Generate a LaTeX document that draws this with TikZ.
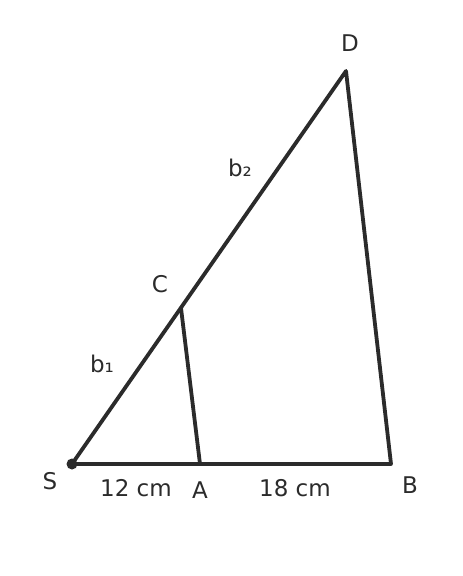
\documentclass[tikz,border=0pt]{standalone}
\usepackage{fontspec}
\setmainfont{DejaVu Sans}
\definecolor{ink}{HTML}{2B2B2B}
\begin{document}
\begin{tikzpicture}[x=1pt,y=-1pt,
  edge/.style={draw=ink,line width=3.8pt,line join=round},
  lbl/.style={text=ink,font=\fontsize{23}{27}\selectfont,inner sep=0pt}]
\useasboundingbox (0,0) rectangle (463,576);
\coordinate (S) at (72,464);
\coordinate (A) at (200,464);
\coordinate (B) at (391,464);
\coordinate (C) at (181,308);
\coordinate (D) at (346,71);
\draw[edge] (S) -- (B) -- (D) -- cycle;
\draw[edge] (A) -- (C);
\fill[ink] (S) circle (5.5);
\node[lbl] (lS) at (50,481) {S};
\node[lbl] (lA) at (200,490) {A};
\node[lbl] (lB) at (410,485) {B};
\node[lbl] (lC) at (160,284) {C};
\node[lbl] (lD) at (350,43) {D};
\node[lbl] (l12) at (136,488) {12 cm};
\node[lbl] (l18) at (295,488) {18 cm};
\node[lbl] (b1) at (102,364) {b₁};
\node[lbl] (b2) at (240,168) {b₂};
\end{tikzpicture}
\end{document}
